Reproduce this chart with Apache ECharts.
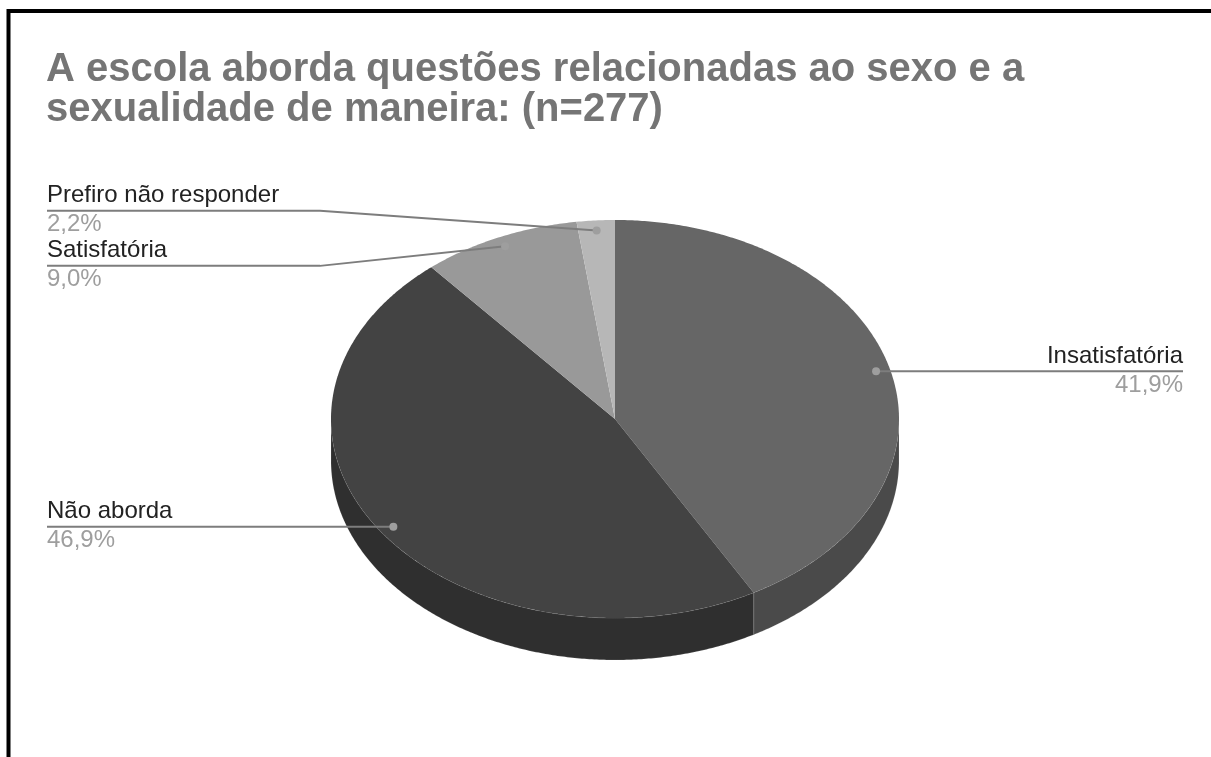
<!DOCTYPE html>
<html>
<head>
<meta charset="utf-8">
<script src="https://cdn.jsdelivr.net/npm/echarts@6/dist/echarts.min.js"></script>
<style>
  html, body { margin: 0; padding: 0; background: #fff; }
  #chart { width: 1211px; height: 757px; }
</style>
</head>
<body>
<div id="chart"></div>
<script>
// respostas (n=277)
const categories = ['Insatisfatória', 'Não aborda', 'Satisfatória', 'Prefiro não responder'];
const counts = [116, 130, 25, 6];

const topColors = ['#666666', '#434343', '#999999', '#b7b7b7'];
const sideColors = ['#4a4a4a', '#2f2f2f', '#737373', '#8a8a8a'];

// geometria da pizza 3d
const cx = 615, cy = 419, rx = 284, ry = 199, depth = 42;
const total = counts.reduce((a, b) => a + b, 0);
const DEG = Math.PI / 180;
const labelFont = '"Liberation Sans", Arial, sans-serif';

function pt(a, dy) {
  return [cx + rx * Math.sin(a), cy - ry * Math.cos(a) + (dy || 0)];
}
function arcPoints(a0, a1, dy) {
  const pts = [];
  const n = Math.max(2, Math.ceil((a1 - a0) / (0.5 * DEG)));
  for (let k = 0; k <= n; k++) pts.push(pt(a0 + (a1 - a0) * k / n, dy));
  return pts;
}

// angulos acumulados
const angles = [];
let acc = 0;
counts.forEach(v => {
  const a0 = acc / total * 2 * Math.PI;
  acc += v;
  angles.push([a0, acc / total * 2 * Math.PI]);
});

// posicoes dos rotulos (pontos a 95% do raio)
const dots = angles.map(([a0, a1]) => {
  const m = (a0 + a1) / 2;
  return [cx + 0.95 * rx * Math.sin(m), cy - 0.95 * ry * Math.cos(m)];
});
const labelY = dots.map(d => d[1]);
function spread(idx) {
  idx.sort((a, b) => dots[a][1] - dots[b][1]);
  const gap = 55;
  let groups = idx.map(i => ({ items: [i], y: dots[i][1] }));
  let moved = true;
  while (moved) {
    moved = false;
    for (let g = 0; g < groups.length - 1; g++) {
      const A = groups[g], B = groups[g + 1];
      const aEnd = A.y + (A.items.length - 1) * gap / 2;
      const bStart = B.y - (B.items.length - 1) * gap / 2;
      if (bStart - aEnd < gap) {
        const items = A.items.concat(B.items);
        const mean = items.reduce((s, i) => s + dots[i][1], 0) / items.length;
        groups.splice(g, 2, { items: items, y: mean });
        moved = true;
        break;
      }
    }
  }
  groups.forEach(G => {
    G.items.forEach((i, k) => {
      labelY[i] = G.y + (k - (G.items.length - 1) / 2) * gap;
    });
  });
}
spread(dots.map((d, i) => i).filter(i => dots[i][0] < cx));
spread(dots.map((d, i) => i).filter(i => dots[i][0] >= cx));

function pctText(v) {
  return (v / total * 100).toFixed(1).replace('.', ',') + '%';
}

function renderItem(params, api) {
  const i = params.dataIndex;
  const [a0, a1] = angles[i];
  const children = [];

  // parede lateral (metade da frente: 90..270 graus)
  const s0 = Math.max(a0, 90 * DEG), s1 = Math.min(a1, 270 * DEG);
  if (s1 > s0) {
    const top = arcPoints(s0, s1, 0);
    const bottom = arcPoints(s0, s1, depth).reverse();
    children.push({
      type: 'polygon',
      shape: { points: top.concat(bottom) },
      style: { fill: sideColors[i], stroke: 'rgba(255,255,255,0.13)', lineWidth: 1 }
    });
  }

  // face de cima
  children.push({
    type: 'polygon',
    shape: { points: [[cx, cy]].concat(arcPoints(a0, a1, 0)) },
    style: { fill: topColors[i] }
  });

  // rotulo
  const d = dots[i];
  const ly = labelY[i];
  const left = d[0] < cx;
  const textX = left ? 47 : 1183;
  const bendX = left ? 320 : 900;
  const pts = Math.abs(ly - d[1]) < 1
    ? [[textX, ly], [d[0], d[1]]]
    : [[textX, ly], [bendX, ly], [d[0], d[1]]];
  children.push({
    type: 'polyline', z2: 10,
    shape: { points: pts },
    style: { stroke: '#7d7d7d', lineWidth: 2, fill: null }
  });
  children.push({
    type: 'circle', z2: 11,
    shape: { cx: d[0], cy: d[1], r: 4 },
    style: { fill: '#9e9e9e' }
  });
  children.push({
    type: 'text', z2: 12,
    style: {
      text: categories[i], x: textX, y: ly - 15,
      fill: '#222222', fontSize: 24, fontFamily: labelFont,
      align: left ? 'left' : 'right', verticalAlign: 'middle'
    }
  });
  children.push({
    type: 'text', z2: 12,
    style: {
      text: pctText(counts[i]), x: textX, y: ly + 14,
      fill: '#9e9e9e', fontSize: 24, fontFamily: labelFont,
      align: left ? 'left' : 'right', verticalAlign: 'middle'
    }
  });

  return { type: 'group', children: children };
}

const chart = echarts.init(document.getElementById('chart'));
chart.setOption({
  backgroundColor: '#ffffff',
  animation: false,
  title: {
    text: 'A escola aborda questões relacionadas ao sexo e a\nsexualidade de maneira: (n=277)',
    left: 46,
    top: 50,
    padding: 0,
    textStyle: {
      fontFamily: 'Liberation Sans, Arial, sans-serif',
      fontSize: 40,
      fontWeight: 'bold',
      color: '#757575',
      lineHeight: 40
    }
  },
  graphic: [{
    type: 'polyline',
    shape: { points: [[8.5, 757], [8.5, 11], [1211, 11]] },
    style: { stroke: '#000', lineWidth: 4, fill: null }
  }],
  series: [{
    type: 'custom',
    coordinateSystem: 'none',
    renderItem: renderItem,
    data: counts.map((v, i) => ({ name: categories[i], value: v }))
  }]
});
</script>
</body>
</html>
